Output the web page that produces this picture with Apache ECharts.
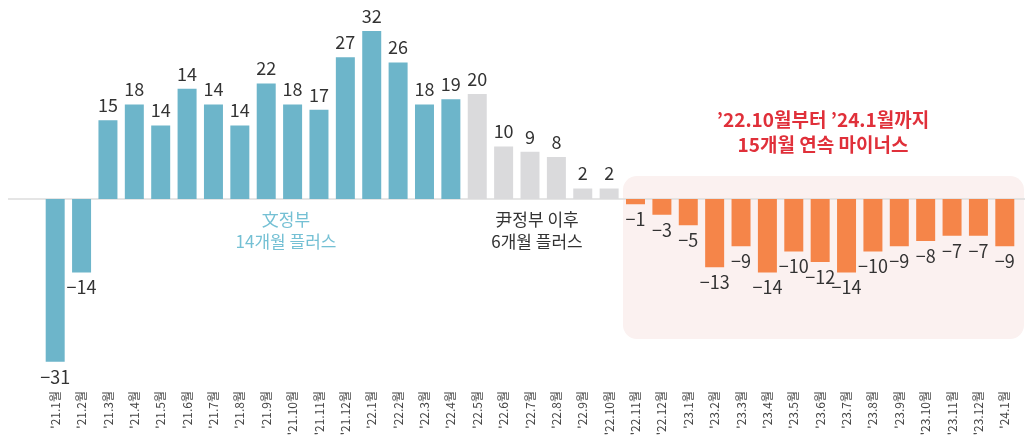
<!DOCTYPE html>
<html>
<head>
<meta charset="utf-8">
<script src="https://cdn.jsdelivr.net/npm/echarts@6/dist/echarts.min.js"></script>
<style>
  html, body { margin: 0; padding: 0; background: #fff; }
  #chart { width: 1025px; height: 441px; }
</style>
</head>
<body>
<div id="chart"></div>
<script>
// 월별 카테고리
const months = [
  "'21.1월", "'21.2월", "'21.3월", "'21.4월", "'21.5월", "'21.6월", "'21.7월", "'21.8월", "'21.9월",
  "'21.10월", "'21.11월", "'21.12월",
  "'22.1월", "'22.2월", "'22.3월", "'22.4월", "'22.5월", "'22.6월", "'22.7월", "'22.8월", "'22.9월",
  "'22.10월", "'22.11월", "'22.12월",
  "'23.1월", "'23.2월", "'23.3월", "'23.4월", "'23.5월", "'23.6월", "'23.7월", "'23.8월", "'23.9월",
  "'23.10월", "'23.11월", "'23.12월", "'24.1월"
]
// 막대 높이
const values = [
  -31, -14, 15, 18, 14, 21, 18, 14, 22, 18, 17, 27, 32, 26, 18, 19,
  20, 10, 9, 8, 2, 2,
  -1, -3, -5, -13, -9, -14, -10, -12, -14, -10, -9, -8, -7, -7, -9
]
// 막대 위 표시 숫자
const labels = [
  '-31', '-14', '15', '18', '14', '14', '14', '14', '22', '18', '17', '27', '32', '26', '18', '19',
  '20', '10', '9', '8', '2', '2',
  '-1', '-3', '-5', '-13', '-9', '-14', '-10', '-12', '-14', '-10', '-9', '-8', '-7', '-7', '-9'
]
// 구간: 0 = 文정부, 1 = 尹정부 초기, 2 = 연속 마이너스
const periods = [
  0, 0, 0, 0, 0, 0, 0, 0, 0, 0, 0, 0, 0, 0, 0, 0,
  1, 1, 1, 1, 1, 1,
  2, 2, 2, 2, 2, 2, 2, 2, 2, 2, 2, 2, 2, 2, 2
]
const periodColors = ['#6db5ca', '#dadadc', '#f58549']

const FONT = '"Noto Sans CJK KR", "Noto Sans", sans-serif'

const seriesData = values.map((v, i) => ({
  value: v,
  itemStyle: { color: periodColors[periods[i]] },
  label: {
    show: true,
    position: v >= 0 ? 'top' : 'bottom',
    distance: 6,
    formatter: labels[i].replace('-', '\u2212'),
    color: '#333',
    fontSize: 18,
    fontFamily: FONT
  }
}))

const myChart = echarts.init(document.getElementById('chart'))
myChart.setOption({
  animation: false,
  grid: { left: 42, right: 7, top: 10, bottom: 53 },
  xAxis: {
    type: 'category',
    data: months,
    axisLine: { show: false, onZero: false },
    axisTick: { show: false },
    axisLabel: {
      rotate: 90,
      margin: 3,
      interval: 0,
      fontSize: 12,
      color: '#444',
      fontFamily: FONT
    }
  },
  yAxis: {
    type: 'value',
    min: -36,
    max: 36,
    show: false,
    splitLine: { show: false }
  },
  series: [
    {
      type: 'bar',
      data: seriesData,
      barCategoryGap: '28%',
      z: 3
    }
  ]
})

// 기준선, 배경 박스, 주석
const zeroY = myChart.convertToPixel({ yAxisIndex: 0 }, 0)
myChart.setOption({
  graphic: [
    {
      type: 'rect',
      z: -10,
      shape: { x: 623, y: 176, width: 401, height: 163, r: 14 },
      style: { fill: '#fbf1f0' }
    },
    {
      type: 'line',
      z: 0,
      shape: { x1: 8, y1: zeroY, x2: 1025, y2: zeroY },
      style: { stroke: '#dcdcdc', lineWidth: 1.5 }
    },
    {
      type: 'text',
      x: 823, y: 107,
      style: {
        text: '\u201922.10월부터 \u201924.1월까지\n15개월 연속 마이너스',
        fill: '#e0303a',
        font: 'bold 19px ' + FONT,
        align: 'center',
        lineHeight: 25
      }
    },
    {
      type: 'text',
      x: 286, y: 209,
      style: {
        text: '文정부\n14개월 플러스',
        fill: '#74c0d4',
        font: '17px ' + FONT,
        align: 'center',
        lineHeight: 22
      }
    },
    {
      type: 'text',
      x: 537, y: 209,
      style: {
        text: '尹정부 이후\n6개월 플러스',
        fill: '#333',
        font: '17px ' + FONT,
        align: 'center',
        lineHeight: 22
      }
    }
  ]
})
</script>
</body>
</html>
